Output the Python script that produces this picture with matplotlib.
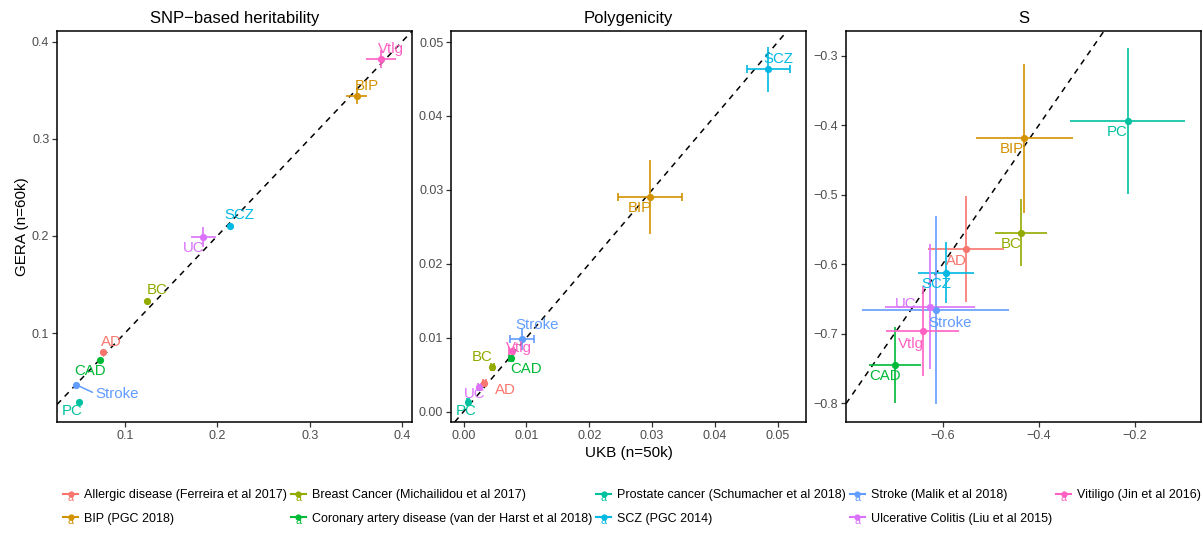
import numpy as np
import matplotlib
matplotlib.use("Agg")
import matplotlib.pyplot as plt
from matplotlib.lines import Line2D
from matplotlib.text import Text
from matplotlib.legend_handler import HandlerBase

plt.rcParams['font.family'] = ['Liberation Sans', 'DejaVu Sans']

# traits (alphabetical by legend label, as ggplot orders them)
short_names = ['AD', 'BIP', 'BC', 'CAD', 'PC', 'SCZ', 'Stroke', 'UC', 'Vtlg']
legend_labels = ['Allergic disease (Ferreira et al 2017)', 'BIP (PGC 2018)',
                 'Breast Cancer (Michailidou et al 2017)',
                 'Coronary artery disease (van der Harst et al 2018)',
                 'Prostate cancer (Schumacher et al 2018)', 'SCZ (PGC 2014)',
                 'Stroke (Malik et al 2018)', 'Ulcerative Colitis (Liu et al 2015)',
                 'Vitiligo (Jin et al 2016)']
colors = ['#F8766D', '#D39200', '#93AA00', '#00BA38', '#00C19F',
          '#00B9E3', '#619CFF', '#DB72FB', '#FF61C3']

# SNP-based heritability: UKB (x) vs GERA (y)
h2_ukb = [0.076, 0.351, 0.124, 0.073, 0.050, 0.214, 0.047, 0.185, 0.377]
h2_ukb_se = [0.002, 0.0115, 0.002, 0.002, 0.002, 0.002, 0.002, 0.0135, 0.016]
h2_gera = [0.081, 0.344, 0.133, 0.072, 0.029, 0.210, 0.047, 0.199, 0.382]
h2_gera_se = [0.002, 0.008, 0.002, 0.002, 0.002, 0.002, 0.002, 0.0105, 0.0095]

# Polygenicity
pol_ukb = [0.0033, 0.0297, 0.0046, 0.0075, 0.0007, 0.0485, 0.0093, 0.0025, 0.0077]
pol_ukb_se = [0.0002, 0.0051, 0.0002, 0.0003, 0.0001, 0.00345, 0.00185, 0.0002, 0.0004]
pol_gera = [0.0039, 0.0291, 0.0061, 0.0072, 0.0013, 0.0463, 0.0098, 0.0033, 0.0082]
pol_gera_se = [0.0002, 0.0050, 0.0002, 0.0002, 0.0001, 0.00305, 0.0015, 0.0002, 0.0004]

# S
s_ukb = [-0.551, -0.4305, -0.437, -0.699, -0.215, -0.593, -0.6145, -0.6255, -0.6415]
s_ukb_se = [0.079, 0.101, 0.055, 0.0545, 0.1195, 0.059, 0.153, 0.0935, 0.075]
s_gera = [-0.578, -0.419, -0.5547, -0.7446, -0.394, -0.612, -0.6658, -0.661, -0.6955]
s_gera_se = [0.0767, 0.1074, 0.0485, 0.0548, 0.105, 0.0445, 0.135, 0.0898, 0.0647]

# label offsets (pixels) mimicking ggrepel placement
off_h2 = [(9, -10), (10, -10), (10, -11), (-10, 11), (-7, 9), (9, -11), (41, 9), (-10, 11), (10, -10)]
off_pol = [(21, 7), (-10, 11), (-10, -10), (15, 11), (-2, 9), (10, -10), (15, -14), (-5, 7), (7, -3)]
off_s = [(-10, 12), (-12, 11), (-10, 11), (-10, 11), (-11, 11), (-10, 11), (15, 13), (-25, -3), (-12, 13)]

W, H = 1203, 533
fig = plt.figure(figsize=(W / 100, H / 100), dpi=100)


def ax_at(l, r):
    return fig.add_axes([l / W, 1 - 422 / H, (r - l) / W, 391 / H])


panels = [
    dict(ax=ax_at(57, 412), x=h2_ukb, xe=h2_ukb_se, y=h2_gera, ye=h2_gera_se, off=off_h2,
         title='SNP\u2212based heritability', xlim=(0.0265, 0.4108), ylim=(0.0085, 0.411),
         ticks=[0.1, 0.2, 0.3, 0.4], fmt='{:.1f}', caps=False),
    dict(ax=ax_at(451, 806), x=pol_ukb, xe=pol_ukb_se, y=pol_gera, ye=pol_gera_se, off=off_pol,
         title='Polygenicity', xlim=(-0.0020, 0.0545), ylim=(-0.0014, 0.0515),
         ticks=[0.0, 0.01, 0.02, 0.03, 0.04, 0.05], fmt='{:.2f}', caps=True),
    dict(ax=ax_at(846, 1201), x=s_ukb, xe=s_ukb_se, y=s_gera, ye=s_gera_se, off=off_s,
         title='S', xlim=(-0.8006, -0.063), ylim=(-0.827, -0.2645),
         ticks=None, fmt='{:.1f}', caps=False),
]

for p in panels:
    ax = p['ax']
    ax.axline((0, 0), slope=1, color='black', ls=(0, (3.8, 3.5)), lw=1.1, zorder=1)
    for i, name in enumerate(short_names):
        c = colors[i]
        ax.errorbar(p['x'][i], p['y'][i], yerr=p['ye'][i], fmt='none', ecolor=c,
                    elinewidth=1.2, capsize=0, zorder=2)
        ax.errorbar(p['x'][i], p['y'][i], xerr=p['xe'][i], fmt='none', ecolor=c,
                    elinewidth=1.2, capsize=3 if p['caps'] else 0, capthick=1.2, zorder=2)
        ax.plot(p['x'][i], p['y'][i], 'o', color=c, ms=5.2, mec='none', zorder=3)
        dx, dy = p['off'][i]
        arrow = None
        if abs(dx) > 30:
            arrow = dict(arrowstyle='-', color=c, lw=1.1, shrinkA=14, shrinkB=3,
                         relpos=(0.0, 0.5))
        ax.annotate(name, (p['x'][i], p['y'][i]), xytext=(dx, -dy),
                    textcoords='offset pixels', ha='center', va='center',
                    fontsize=10.8, color=c, zorder=4, arrowprops=arrow)
    ax.set_xlim(p['xlim'])
    ax.set_ylim(p['ylim'])
    if p['ticks'] is not None:
        ax.set_xticks(p['ticks'])
        ax.set_yticks(p['ticks'])
        ax.set_xticklabels([p['fmt'].format(t) for t in p['ticks']])
        ax.set_yticklabels([p['fmt'].format(t) for t in p['ticks']])
    else:
        xt = [-0.6, -0.4, -0.2]
        yt = [-0.8, -0.7, -0.6, -0.5, -0.4, -0.3]
        ax.set_xticks(xt)
        ax.set_yticks(yt)
        ax.set_xticklabels(['\u2212' + '{:.1f}'.format(-t) for t in xt])
        ax.set_yticklabels(['\u2212' + '{:.1f}'.format(-t) for t in yt])
    ax.set_title(p['title'], fontsize=12, pad=6)
    for s in ax.spines.values():
        s.set_linewidth(1.1)
        s.set_color('black')
    ax.tick_params(direction='out', length=3.5, width=0.9, color='#333333',
                   labelsize=9, labelcolor='#4D4D4D', pad=2)

panels[0]['ax'].set_ylabel('GERA (n=60k)', fontsize=11, labelpad=2)
panels[1]['ax'].set_xlabel('UKB (n=50k)', fontsize=11, labelpad=3)


class KeyHandler(HandlerBase):
    def create_artists(self, legend, orig_handle, xdescent, ydescent, width, height,
                       fontsize, trans):
        c = orig_handle.get_color()
        cy = height / 2 - ydescent
        cx = width / 2 - xdescent
        line = Line2D([-xdescent, width - xdescent], [cy, cy], color=c, lw=1.5,
                      transform=trans)
        dot = Line2D([cx], [cy], marker='o', ms=4.5, color=c, mec='none', transform=trans)
        txt = Text(cx, cy + 1, 'a', color=c, ha='center', va='top',
                   fontsize=fontsize * 0.85, transform=trans)
        return [line, dot, txt]


handles = [Line2D([], [], color=c) for c in colors]
fig.legend(handles, legend_labels, ncol=5, loc='center left',
           bbox_to_anchor=(63 / W, 1 - 507 / H), frameon=False, fontsize=9,
           handlelength=1.2, handletextpad=0.5, columnspacing=0.3, labelspacing=0.9,
           borderpad=0, borderaxespad=0, handler_map={Line2D: KeyHandler()})

fig.savefig('out.png', dpi=100)
